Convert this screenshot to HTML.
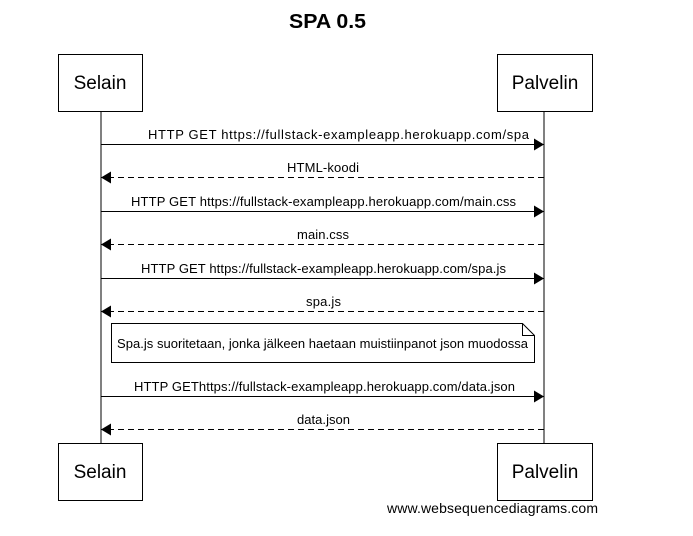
<!DOCTYPE html>
<html><head><meta charset="utf-8"><style>
body{margin:0;background:#fff}
svg{display:block;font-family:"Liberation Sans",sans-serif}
</style></head><body>
<svg width="693" height="536" viewBox="0 0 693 536">
<defs>
<marker id="a" markerWidth="10" markerHeight="12" refX="10" refY="6" orient="auto" markerUnits="userSpaceOnUse"><path d="M0,0 L10,6 L0,12 z" fill="#000"/></marker>
</defs>
<text x="289" y="28" font-size="20" font-weight="bold" textLength="77" lengthAdjust="spacingAndGlyphs">SPA 0.5</text>
<line x1="101" y1="111" x2="101" y2="443" stroke="#000"/>
<line x1="544" y1="111" x2="544" y2="443" stroke="#000"/>
<g fill="#fff" stroke="#000">
<rect x="58.5" y="54.5" width="84" height="57"/>
<rect x="497.5" y="54.5" width="95" height="57"/>
<rect x="58.5" y="443.5" width="84" height="57"/>
<rect x="497.5" y="443.5" width="95" height="57"/>
</g>
<g font-size="19" text-anchor="middle">
<text x="100" y="89">Selain</text><text x="545" y="89">Palvelin</text>
<text x="100" y="478">Selain</text><text x="545" y="478">Palvelin</text>
</g>
<g stroke="#000" fill="none">
<line x1="101" y1="144.5" x2="544" y2="144.5" marker-end="url(#a)"/>
<line x1="544" y1="177.5" x2="101" y2="177.5" stroke-dasharray="6,4" marker-end="url(#a)"/>
<line x1="101" y1="211.5" x2="544" y2="211.5" marker-end="url(#a)"/>
<line x1="544" y1="244.5" x2="101" y2="244.5" stroke-dasharray="6,4" marker-end="url(#a)"/>
<line x1="101" y1="278.5" x2="544" y2="278.5" marker-end="url(#a)"/>
<line x1="544" y1="311.5" x2="101" y2="311.5" stroke-dasharray="6,4" marker-end="url(#a)"/>
<line x1="101" y1="396.5" x2="544" y2="396.5" marker-end="url(#a)"/>
<line x1="544" y1="429.5" x2="101" y2="429.5" stroke-dasharray="6,4" marker-end="url(#a)"/>
<path d="M111.5,323.5 H522.5 L534.5,335.5 V362.5 H111.5 Z" fill="#fff"/>
<path d="M522.5,323.5 V335.5 H534.5"/>
</g>
<g font-size="13" lengthAdjust="spacingAndGlyphs">
<text x="148" y="139" textLength="381">HTTP GET https://fullstack-exampleapp.herokuapp.com/spa</text>
<text x="287" y="172" textLength="72">HTML-koodi</text>
<text x="131" y="206" textLength="385">HTTP GET https://fullstack-exampleapp.herokuapp.com/main.css</text>
<text x="297" y="239" textLength="52">main.css</text>
<text x="141" y="273" textLength="365">HTTP GET https://fullstack-exampleapp.herokuapp.com/spa.js</text>
<text x="306" y="306" textLength="35">spa.js</text>
<text x="117" y="348" textLength="411">Spa.js suoritetaan, jonka jälkeen haetaan muistiinpanot json muodossa</text>
<text x="134" y="391" textLength="381">HTTP GEThttps://fullstack-exampleapp.herokuapp.com/data.json</text>
<text x="297" y="424" textLength="53">data.json</text>
<text x="387" y="513" font-size="14" textLength="211">www.websequencediagrams.com</text>
</g>
</svg>
</body></html>
